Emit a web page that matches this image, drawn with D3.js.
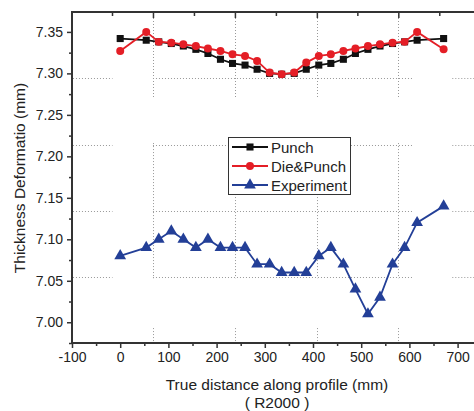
<!DOCTYPE html>
<html>
<head>
<meta charset="utf-8">
<script src="https://cdn.jsdelivr.net/npm/d3@7"></script>
<style>
  body { margin: 0; background: #fff; }
  svg { display: block; font-family: "Liberation Sans", Arial, sans-serif; }
</style>
</head>
<body>
<svg id="chart" width="474" height="411"></svg>
<script>
/** data **/
var distance = [0, 54, 80, 106, 131, 157, 182, 208, 233, 259, 284, 310, 335, 361, 386, 412, 437, 463, 488, 514, 539, 565, 590, 616, 671];
var punch = [7.342, 7.340, 7.338, 7.336, 7.333, 7.329, 7.324, 7.317, 7.312, 7.310, 7.305, 7.300, 7.299, 7.300, 7.305, 7.310, 7.312, 7.317, 7.324, 7.329, 7.333, 7.336, 7.338, 7.340, 7.342];
var diePunch = [7.327, 7.350, 7.338, 7.337, 7.335, 7.333, 7.330, 7.327, 7.323, 7.321, 7.315, 7.301, 7.299, 7.301, 7.313, 7.321, 7.323, 7.327, 7.330, 7.333, 7.335, 7.337, 7.338, 7.350, 7.329];
var experiment = [7.08, 7.09, 7.10, 7.11, 7.10, 7.09, 7.10, 7.09, 7.09, 7.09, 7.07, 7.07, 7.06, 7.06, 7.06, 7.08, 7.09, 7.07, 7.04, 7.01, 7.03, 7.07, 7.09, 7.12, 7.14];
var seriesNames = ["Punch", "Die&Punch", "Experiment"];
var xTicks = [-100, 0, 100, 200, 300, 400, 500, 600, 700];
var yTicks = [7.00, 7.05, 7.10, 7.15, 7.20, 7.25, 7.30, 7.35];

// the dotted grid of the background layer (does not sit on the ticks)
var xGrid = [68, 238, 408, 577];
var yGrid = [7.294, 7.214, 7.134, 7.054];
var topTicks = [-17, 68, 153, 238, 323, 408, 492, 577, 662];

var svg = d3.select("#chart");
var x = d3.scaleLinear().domain([-100, 800]).range([72, 72 + 900 * 0.482]);
var y = d3.scaleLinear().domain([6.975, 7.374]).range([343, 12]);
var X0 = 72, Y0 = 343, Y1 = 12, XR = 474;
var axisColor = "#333";

svg.append("rect").attr("width", 474).attr("height", 411).attr("fill", "#fff");

//grid, drawn in pieces
var gx = svg.append("g").attr("stroke", "#999").attr("stroke-width", 1).attr("stroke-dasharray", "1,2");
var hSpans = [[-98, -16], [68, 606], [689, 800]];
var vSpans = [[7.374, 7.270], [7.216, 7.053], [6.993, 6.975]];
yGrid.forEach(function(v) {
  hSpans.forEach(function(s) {
    gx.append("line").attr("x1", x(s[0])).attr("x2", Math.min(x(s[1]), XR))
      .attr("y1", Math.round(y(v)) + 0.5).attr("y2", Math.round(y(v)) + 0.5);
  });
});
xGrid.forEach(function(v) {
  vSpans.forEach(function(s) {
    gx.append("line").attr("x1", Math.round(x(v)) + 0.5).attr("x2", Math.round(x(v)) + 0.5)
      .attr("y1", y(s[0])).attr("y2", y(s[1]));
  });
});

//axes
var bottom = svg.append("g").attr("transform", "translate(0," + Y0 + ")")
  .call(d3.axisBottom(x).tickValues(xTicks).tickSize(5).tickSizeOuter(0).tickPadding(4)
    .tickFormat(function(d) { return String(d); }));
svg.append("g").attr("transform", "translate(0," + Y0 + ")")
  .call(d3.axisBottom(x).tickValues(d3.range(-50, 800, 100)).tickSize(3).tickFormat(""))
  .select(".domain").remove();
var left = svg.append("g").attr("transform", "translate(" + X0 + ",0)")
  .call(d3.axisLeft(y).tickValues(yTicks).tickSize(5).tickSizeOuter(0).tickPadding(4).tickFormat(d3.format(".2f")));
svg.append("g").attr("transform", "translate(" + X0 + ",0)")
  .call(d3.axisLeft(y).tickValues(d3.range(6.975, 7.37, 0.05)).tickSize(3).tickFormat(""))
  .select(".domain").remove();
var topAx = svg.append("g").attr("transform", "translate(0," + Y1 + ")")
  .call(d3.axisBottom(x).tickValues(topTicks).tickSizeOuter(0).tickFormat("")
    .tickSize(4));
topAx.selectAll(".tick line").attr("y2", function(d) { return xGrid.indexOf(d) >= 0 ? 6 : 4; });
topAx.select(".domain").remove();
svg.append("line").attr("x1", X0).attr("x2", XR).attr("y1", Y1).attr("y2", Y1)
  .attr("stroke", axisColor).attr("stroke-width", 2);
bottom.select(".domain").remove();
svg.append("line").attr("x1", X0 - 1).attr("x2", XR).attr("y1", Y0).attr("y2", Y0)
  .attr("stroke", axisColor).attr("stroke-width", 2);
left.select(".domain").remove();
svg.append("line").attr("x1", X0).attr("x2", X0).attr("y1", Y1 - 1).attr("y2", Y0 + 1)
  .attr("stroke", axisColor).attr("stroke-width", 2);

svg.selectAll(".tick line").attr("stroke", axisColor).attr("stroke-width", 1.5);
svg.selectAll(".tick text").attr("fill", "#222").style("font-size", "14px")
  .style("font-family", "'Liberation Sans', Arial, sans-serif");

//titles
svg.append("text").attr("x", 277).attr("y", 390).attr("text-anchor", "middle")
  .attr("fill", "#222").style("font-size", "15.5px").text("True distance along profile (mm)");
svg.append("text").attr("x", 277).attr("y", 408).attr("text-anchor", "middle")
  .attr("fill", "#222").style("font-size", "15.5px").text("( R2000 )");
svg.append("text").attr("transform", "translate(25,178) rotate(-90)").attr("text-anchor", "middle")
  .attr("fill", "#222").style("font-size", "15.5px").text("Thickness Deformatio (mm)");

//series
var colors = ["#111", "#e41e26", "#233f97"];
var allSeries = [punch, diePunch, experiment];
var sym = [d3.symbolSquare, d3.symbolCircle, d3.symbolTriangle];
var symSize = [50, 50, 60];

var line = d3.line().x(function(d, i) { return x(distance[i]); }).y(function(d) { return y(d); });

allSeries.forEach(function(s, k) {
  var g = svg.append("g");
  g.append("path").datum(s).attr("d", line).attr("fill", "none")
    .attr("stroke", colors[k]).attr("stroke-width", 1.8);
  g.selectAll("path.m").data(s).enter().append("path").attr("class", "m")
    .attr("transform", function(d, i) { return "translate(" + x(distance[i]) + "," + y(d) + ")"; })
    .attr("d", d3.symbol().type(sym[k]).size(symSize[k]))
    .attr("fill", colors[k]);
});

//legend
var lg = svg.append("g");
lg.append("rect").attr("x", 228.5).attr("y", 137.5).attr("width", 122).attr("height", 57)
  .attr("fill", "#fff").attr("stroke", "#333").attr("stroke-width", 1);
seriesNames.forEach(function(n, k) {
  var ly = 147 + k * 19;
  lg.append("line").attr("x1", 232).attr("x2", 268).attr("y1", ly).attr("y2", ly)
    .attr("stroke", colors[k]).attr("stroke-width", 1.8);
  lg.append("path").attr("transform", "translate(250," + ly + ")")
    .attr("d", d3.symbol().type(sym[k]).size(symSize[k])).attr("fill", colors[k]);
  lg.append("text").attr("x", 271).attr("y", ly + 5.5).attr("fill", "#222")
    .style("font-size", "15px").text(n);
});
</script>
</body>
</html>
